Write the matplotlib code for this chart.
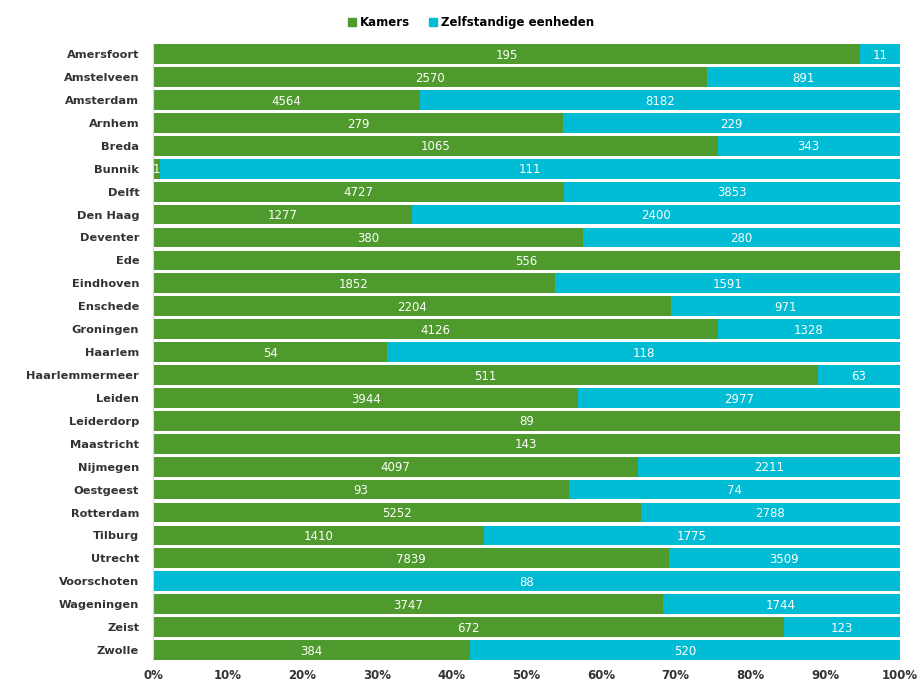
import numpy as np
import matplotlib
matplotlib.use("Agg")
import matplotlib.pyplot as plt
from matplotlib.patches import Patch

cities = ["Amersfoort", "Amstelveen", "Amsterdam", "Arnhem", "Breda", "Bunnik", "Delft",
          "Den Haag", "Deventer", "Ede", "Eindhoven", "Enschede", "Groningen", "Haarlem",
          "Haarlemmermeer", "Leiden", "Leiderdorp", "Maastricht", "Nijmegen", "Oestgeest",
          "Rotterdam", "Tilburg", "Utrecht", "Voorschoten", "Wageningen", "Zeist", "Zwolle"]
kamers = [195, 2570, 4564, 279, 1065, 1, 4727, 1277, 380, 556, 1852, 2204, 4126, 54,
          511, 3944, 89, 143, 4097, 93, 5252, 1410, 7839, 0, 3747, 672, 384]
zelfstandig = [11, 891, 8182, 229, 343, 111, 3853, 2400, 280, 0, 1591, 971, 1328, 118,
               63, 2977, 0, 0, 2211, 74, 2788, 1775, 3509, 88, 1744, 123, 520]

green = "#4f9a2c"
cyan = "#00bcd4"

kamers = np.array(kamers, dtype=float)
zelfstandig = np.array(zelfstandig, dtype=float)
total = kamers + zelfstandig
p_k = kamers / total
p_z = zelfstandig / total
y = np.arange(len(cities))

fig = plt.figure(figsize=(9.18, 6.85), dpi=100)
ax = fig.add_axes([0.1667, 0.036, 0.8133, 0.9])

ax.barh(y, p_k, height=0.86, color=green)
ax.barh(y, p_z, left=p_k, height=0.86, color=cyan)

for i in range(len(cities)):
    if kamers[i] > 0:
        ax.text(p_k[i] / 2, y[i] + 0.05, f"{int(kamers[i])}", ha="center", va="center",
                color="white", fontsize=8.5)
    if zelfstandig[i] > 0:
        ax.text(p_k[i] + p_z[i] / 2, y[i] + 0.05, f"{int(zelfstandig[i])}", ha="center",
                va="center", color="white", fontsize=8.5)

ax.set_xlim(0, 1)
ax.set_ylim(len(cities) - 0.55, -0.45)
ax.set_yticks(y)
ax.set_yticklabels(cities, fontsize=8.2, fontweight="bold", color="#333333")
ax.set_xticks(np.arange(0, 1.01, 0.1))
ax.set_xticklabels([f"{int(v)}%" for v in np.arange(0, 101, 10)], fontsize=8.5,
                   fontweight="bold", color="#333333")
ax.tick_params(axis="y", length=0, pad=10)
ax.tick_params(axis="x", length=0, pad=6)
for s in ["top", "right", "bottom"]:
    ax.spines[s].set_visible(False)
ax.spines["left"].set_color("#d9d9d9")

handles = [Patch(color=green, label="Kamers"), Patch(color=cyan, label="Zelfstandige eenheden")]
fig.legend(handles=handles, loc="upper center", bbox_to_anchor=(0.513, 0.992), ncol=2,
           frameon=False, handlelength=0.7, handleheight=0.7, handletextpad=0.3,
           columnspacing=1.6, prop={"size": 8.5, "weight": "bold"})

fig.savefig("out.png", dpi=100)
